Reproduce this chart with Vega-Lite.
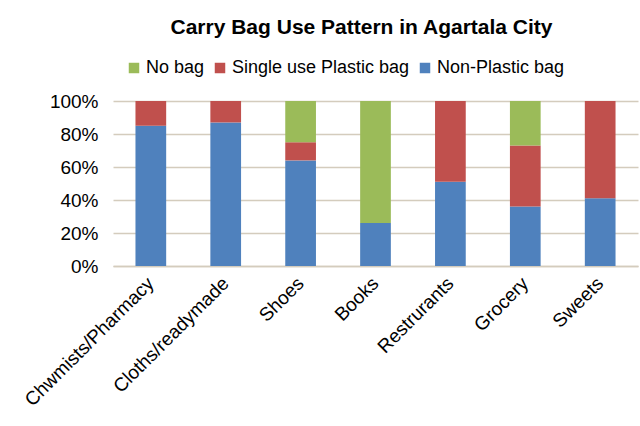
{
  "$schema": "https://vega.github.io/schema/vega-lite/v6.json",
  "width": 525,
  "height": 165,
  "autosize": {"type": "none"},
  "padding": {"left": 113, "top": 101, "right": 2, "bottom": 160},
  "background": "white",
  "title": {
    "text": "Carry Bag Use Pattern in Agartala City",
    "font": "Liberation Sans",
    "fontSize": 21,
    "fontWeight": "bold",
    "color": "#000000",
    "anchor": "middle",
    "dx": -14,
    "offset": 21
  },
  "data": {
    "values": [
      {"cat": "Chwmists/Pharmacy", "type": "Non-Plastic bag", "value": 85, "k": 1},
      {"cat": "Chwmists/Pharmacy", "type": "Single use Plastic bag", "value": 15, "k": 2},
      {"cat": "Cloths/readymade", "type": "Non-Plastic bag", "value": 87, "k": 1},
      {"cat": "Cloths/readymade", "type": "Single use Plastic bag", "value": 13, "k": 2},
      {"cat": "Shoes", "type": "Non-Plastic bag", "value": 64, "k": 1},
      {"cat": "Shoes", "type": "Single use Plastic bag", "value": 11, "k": 2},
      {"cat": "Shoes", "type": "No bag", "value": 25, "k": 3},
      {"cat": "Books", "type": "Non-Plastic bag", "value": 26, "k": 1},
      {"cat": "Books", "type": "No bag", "value": 74, "k": 3},
      {"cat": "Restrurants", "type": "Non-Plastic bag", "value": 51, "k": 1},
      {"cat": "Restrurants", "type": "Single use Plastic bag", "value": 49, "k": 2},
      {"cat": "Grocery", "type": "Non-Plastic bag", "value": 36, "k": 1},
      {"cat": "Grocery", "type": "Single use Plastic bag", "value": 37, "k": 2},
      {"cat": "Grocery", "type": "No bag", "value": 27, "k": 3},
      {"cat": "Sweets", "type": "Non-Plastic bag", "value": 41, "k": 1},
      {"cat": "Sweets", "type": "Single use Plastic bag", "value": 59, "k": 2}
    ]
  },
  "mark": {"type": "bar"},
  "encoding": {
    "x": {
      "field": "cat",
      "type": "nominal",
      "sort": null,
      "scale": {"paddingInner": 0.59, "paddingOuter": 0.3},
      "axis": {
        "title": null,
        "labelAngle": -45,
        "labelAlign": "right",
        "labelBaseline": "middle",
        "labelFont": "Liberation Sans",
        "labelFontSize": 19,
        "labelColor": "#000000",
        "labelPadding": 14,
        "labelLimit": 400,
        "ticks": false,
        "domainColor": "#D4CCBD",
        "domainWidth": 1.5
      }
    },
    "y": {
      "field": "value",
      "type": "quantitative",
      "stack": "normalize",
      "axis": {
        "title": null,
        "format": ".0%",
        "values": [0, 0.2, 0.4, 0.6, 0.8, 1],
        "labelFont": "Liberation Sans",
        "labelFontSize": 19,
        "labelColor": "#000000",
        "labelPadding": 15,
        "ticks": false,
        "domain": false,
        "gridColor": "#D4CCBD",
        "gridWidth": 1.5
      }
    },
    "color": {
      "field": "type",
      "type": "nominal",
      "scale": {
        "domain": ["No bag", "Single use Plastic bag", "Non-Plastic bag"],
        "range": ["#9BBB59", "#C0504D", "#4F81BD"]
      },
      "legend": {
        "title": null,
        "orient": "none",
        "direction": "horizontal",
        "legendX": 12,
        "legendY": -42,
        "symbolType": "square",
        "symbolSize": 110,
        "symbolStrokeWidth": 0,
        "labelFont": "Liberation Sans",
        "labelFontSize": 18,
        "labelColor": "#000000",
        "labelOffset": 3,
        "labelLimit": 400,
        "columnPadding": 6
      }
    },
    "order": {"field": "k", "type": "quantitative", "sort": "ascending"}
  },
  "config": {
    "view": {"stroke": null}
  }
}
